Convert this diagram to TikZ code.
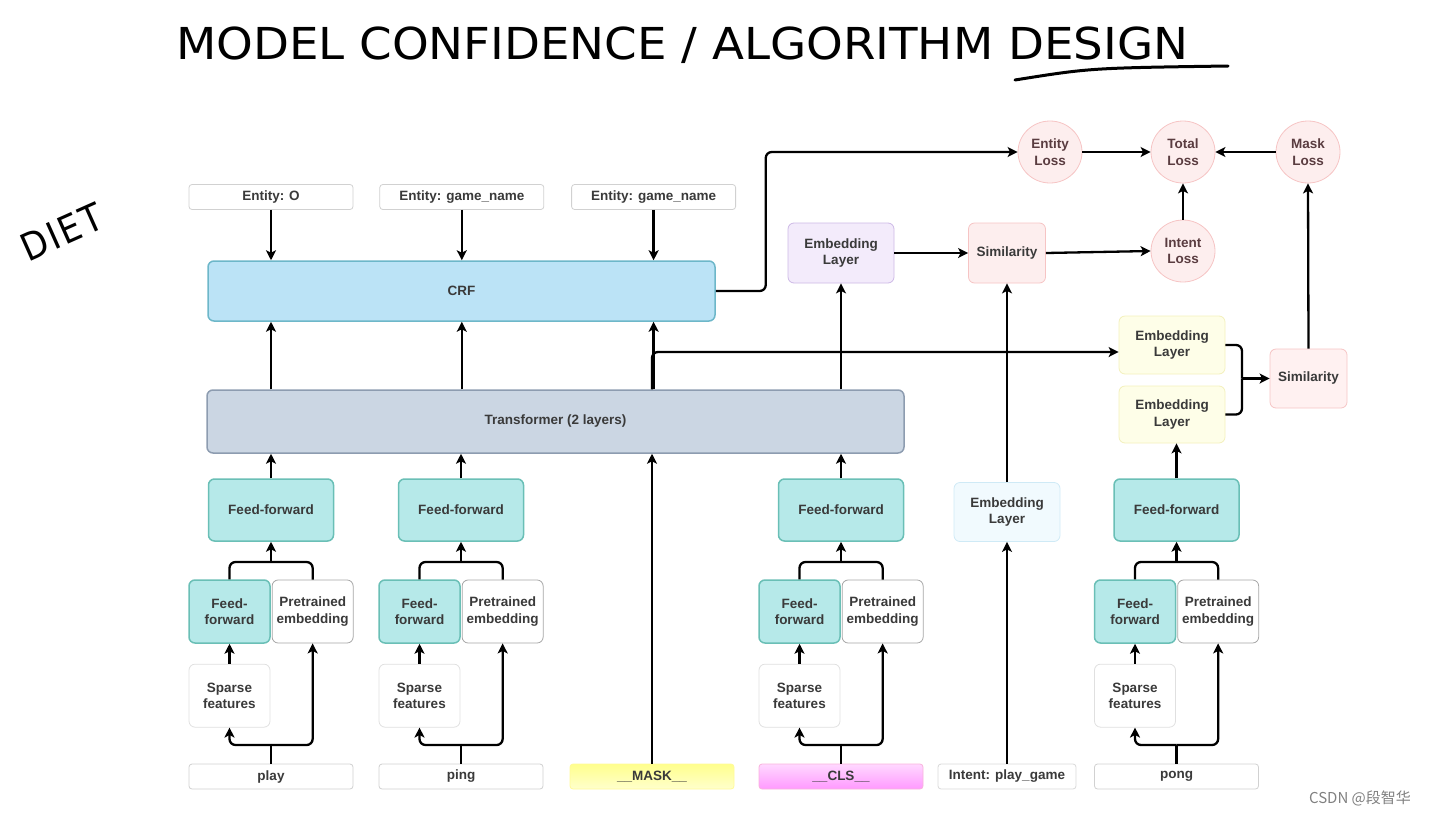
\documentclass[tikz,border=0pt]{standalone}
\usepackage{fontspec}
\setmainfont{Liberation Sans}
\newfontfamily\handfont{DejaVu Sans Condensed}
\newfontfamily\cjkfont{Noto Sans CJK SC}
\usetikzlibrary{positioning,arrows.meta,shapes.geometric}

\definecolor{ffFill}{HTML}{B6E9E9}
\definecolor{ffLine}{HTML}{6ABFB6}
\definecolor{crfFill}{HTML}{BBE3F6}
\definecolor{crfLine}{HTML}{6DB7C9}
\definecolor{trFill}{HTML}{CBD6E3}
\definecolor{trLine}{HTML}{8D9CB0}
\definecolor{purFill}{HTML}{F3EBFB}
\definecolor{purLine}{HTML}{CDB9E6}
\definecolor{pinkFill}{HTML}{FDEEEE}
\definecolor{pinkLine}{HTML}{F6C4C4}
\definecolor{yelFill}{HTML}{FEFEE8}
\definecolor{yelLine}{HTML}{F3F0BC}
\definecolor{iceFill}{HTML}{F1FAFE}
\definecolor{iceLine}{HTML}{CFEAF6}
\definecolor{txt}{HTML}{3A3A3A}
\definecolor{lossTxt}{HTML}{5A3C40}

\tikzset{
    base/.style={rectangle, rounded corners=6pt, align=center, inner sep=0pt,
        text=txt, font=\bfseries\fontsize{13.5}{16.5}\selectfont, line width=0.8pt},
    word/.style={base, rounded corners=3pt, draw=black!18, fill=white,
        minimum width=164pt, minimum height=25pt},
    ffbig/.style={base, draw=ffLine, fill=ffFill, line width=1.5pt,
        minimum width=125pt, minimum height=62pt},
    ffsmall/.style={ffbig, minimum width=81pt, minimum height=63pt},
    whitebox/.style={base, draw=black!#1, fill=white,
        minimum width=81pt, minimum height=63pt},
    embed/.style={base, draw=#1Line, fill=#1Fill,
        minimum width=106pt, minimum height=59pt},
    simbox/.style={base, draw=pinkLine, fill=pinkFill,
        minimum width=77pt, minimum height=60pt},
    loss/.style={ellipse, draw=pinkLine, fill=pinkFill, line width=0.8pt,
        minimum width=64pt, minimum height=62pt, inner sep=0pt, align=center,
        text=lossTxt, font=\bfseries\fontsize{13.5}{16.5}\selectfont},
    link/.style={line width=2.3pt, rounded corners=6pt},
    arr/.style={link, -{Stealth[length=10pt,width=10pt,inset=2.5pt]}}
}

\begin{document}
\begin{tikzpicture}[x=1pt,y=-1pt]
\tikzstyle{maskword}=[word, draw=yellow!40, top color=yellow!45, bottom color=yellow!20]
\tikzstyle{clsword}=[word, draw=magenta!30, top color=magenta!15, bottom color=magenta!40]
\useasboundingbox (0,0) rectangle (1441,817);

\node[font=\handfont\fontsize{44}{50}\selectfont, anchor=west, xscale=1.18] (title) at (172,45)
    {MODEL CONFIDENCE / ALGORITHM DESIGN};
\draw[line width=3pt, line cap=round] (1015,80) .. controls (1090,68) .. (1228,66);
\node[font=\handfont\fontsize{38}{44}\selectfont\addfontfeatures{LetterSpace=6},
    rotate=24, inner sep=0pt] (diet) at (62,232) {DIET};

% entity labels, CRF and transformer
\node[word] (ent1) at (271,197) {Entity: O};
\node[word, right=26pt of ent1] (ent2) {Entity: game\_name};
\node[word, right=27pt of ent2] (ent3) {Entity: game\_name};
\node[base, draw=crfLine, fill=crfFill, line width=1.5pt,
    minimum width=507pt, minimum height=60pt] (crf) at (461.5,291) {CRF};
\node[base, draw=trLine, fill=trFill, line width=1.5pt,
    minimum width=697pt, minimum height=63pt] (trans) at (555.5,421.5) {Transformer (2 layers)};
\foreach \i in {1,2,3} {
    \draw[arr] (ent\i.south) -- (crf.north -| ent\i.south);
    \draw[arr] (trans.north -| ent\i.south) -- (crf.south -| ent\i.south);
}

% token columns
\foreach \n/\x/\w/\s in {1/271/play/word, 2/461/ping/word,
        3/841/{\_\_CLS\_\_}/clsword, 4/1176.5/pong/word} {
    \node[\s] (w\n) at (\x,776.5) {\w};
    \node[ffbig] (ff\n) at (\x,510) {Feed-forward};
    \node[ffsmall] (sff\n) at (\x-41.5,611.5) {Feed-\\forward};
    \node[whitebox=35, right=1pt of sff\n] (pe\n) {Pretrained\\embedding};
    \node[whitebox=12, below=20pt of sff\n] (sp\n) {Sparse\\features};
    \coordinate (f\n) at (\x,745);
    \coordinate (m\n) at (\x,562);
    \draw[link] (w\n.north) -- (f\n);
    \draw[arr] (f\n) -| (sp\n.south);
    \draw[arr] (f\n) -| (pe\n.south);
    \draw[arr] (sp\n.north) -- (sff\n.south);
    \draw[link] (sff\n.north) |- (m\n) -| (pe\n.north);
    \draw[arr] (m\n) -- (ff\n.south);
}
\foreach \n in {1,2,3}
    \draw[arr] (ff\n.north) -- (trans.south -| ff\n.north);

\node[maskword] (mask) at (652,776.5) {\_\_MASK\_\_};
\draw[arr] (mask.north) -- (trans.south -| mask.north);

% intent branch
\node[word, minimum width=138pt, draw=black!15] (intent) at (1007,776.5) {Intent: play\_game};
\node[embed=ice] (embi) at (1007,512) {Embedding\\Layer};
\node[embed=pur, minimum height=60pt] (embp) at (841,253) {Embedding\\Layer};
\node[simbox] (sim1) at (1007,253) {Similarity};
\draw[arr] (intent.north) -- (embi.south);
\draw[arr] (embi.north) -- (sim1.south);
\draw[arr] (trans.north -| embp.south) -- (embp.south);
\draw[arr] (embp.east) -- (sim1.west);

% losses
\node[loss] (eloss) at (1050,152) {Entity\\Loss};
\node[loss] (tloss) at (1183,152) {Total\\Loss};
\node[loss] (mloss) at (1308,152) {Mask\\Loss};
\node[loss] (iloss) at (1183,251) {Intent\\Loss};
\draw[arr] (sim1.east) -- (iloss.west);
\draw[arr] (iloss.north) -- (tloss.south);
\draw[arr] (eloss.east) -- (tloss.west);
\draw[arr] (mloss.west) -- (tloss.east);
\draw[arr] (crf.east) -- ++(50,0) |- (eloss.west);

% mask branch
\node[embed=yel, minimum height=58pt] (emb1) at (1172,345) {Embedding\\Layer};
\node[embed=yel, minimum height=57pt] (emb2) at (1172,414.5) {Embedding\\Layer};
\node[simbox, minimum height=59pt, fill=pinkFill!60!pink!40] (sim2) at (1308.5,378.5) {Similarity};
\coordinate (br) at (1242,378.5);
\draw[arr] (trans.north -| mask.north) |- ([yshift=-7pt]emb1.west);
\draw[arr] (ff4.north) -- (emb2.south -| ff4.north);
\draw[link] (emb1.east) -| (br);
\draw[link] (emb2.east) -| (br);
\draw[arr] (br) -- (sim2.west);
\draw[arr] (sim2.north) -- (mloss.south);

\node[font=\cjkfont\fontsize{15}{18}\selectfont, text=black!50] (mark) at (1360,798) {CSDN @段智华};
\end{tikzpicture}
\end{document}
